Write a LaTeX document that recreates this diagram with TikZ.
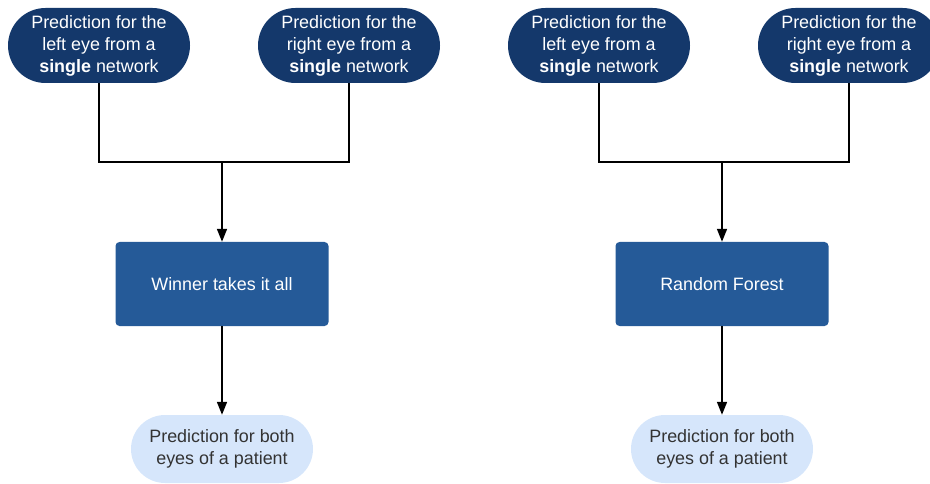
\documentclass[tikz,border=0pt]{standalone}
\usepackage{fontspec}
\setmainfont{Liberation Sans}
\usetikzlibrary{arrows.meta,shapes.misc}
\definecolor{darkpill}{HTML}{14386B}
\definecolor{boxblue}{HTML}{255A98}
\definecolor{lightpill}{HTML}{D6E6FB}
\definecolor{txtgray}{HTML}{333333}
\begin{document}
\begin{tikzpicture}[x=1pt,y=-1pt,
  toppill/.style={rounded rectangle, fill=darkpill, text=white, minimum width=182pt, minimum height=75pt, inner sep=0pt, align=center, font=\fontsize{17.9}{22}\selectfont},
  midbox/.style={rectangle, rounded corners=4pt, fill=boxblue, text=white, minimum width=213pt, minimum height=84pt, inner sep=0pt, align=center, font=\fontsize{17.9}{22}\selectfont},
  botpill/.style={rounded rectangle, fill=lightpill, text=txtgray, minimum width=182pt, minimum height=68pt, inner sep=0pt, align=center, font=\fontsize{17.9}{22}\selectfont},
  conn/.style={line width=1.7pt, black},
  arr/.style={conn, -{Triangle[length=13pt,width=10pt]}}
]
\useasboundingbox (0,0) rectangle (930,484);
\begin{scope}
\clip (0,0) rectangle (930,484);
% left group
\node[toppill] (l1) at (99,45.5) {Prediction for the\\left eye from a\\\textbf{single} network};
\node[toppill] (l2) at (349,45.5) {Prediction for the\\right eye from a\\\textbf{single} network};
\node[midbox] (lb) at (222,284) {Winner takes it all};
\node[botpill] (lp) at (222,449) {Prediction for both\\eyes of a patient};
\coordinate (lj) at (222,162);
\draw[conn] (l1.south) |- (lj) -| (l2.south);
\draw[arr] (lj) -- (lb.north);
\draw[arr] (lb.south) -- (lp.north);
% right group
\node[toppill] (r1) at (599,45.5) {Prediction for the\\left eye from a\\\textbf{single} network};
\node[toppill] (r2) at (849,45.5) {Prediction for the\\right eye from a\\\textbf{single} network};
\node[midbox] (rb) at (722,284) {Random Forest};
\node[botpill] (rp) at (722,449) {Prediction for both\\eyes of a patient};
\coordinate (rj) at (722,162);
\draw[conn] (r1.south) |- (rj) -| (r2.south);
\draw[arr] (rj) -- (rb.north);
\draw[arr] (rb.south) -- (rp.north);
\end{scope}
\end{tikzpicture}
\end{document}
